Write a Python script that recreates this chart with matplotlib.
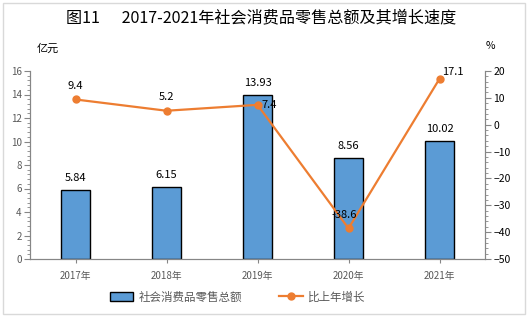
import matplotlib.pyplot as plt
from matplotlib.patches import Rectangle
from matplotlib.ticker import MultipleLocator

plt.rcParams['font.family'] = ['Noto Sans CJK SC', 'DejaVu Sans']

years = ["2017年", "2018年", "2019年", "2020年", "2021年"]
sales = [5.84, 6.15, 13.93, 8.56, 10.02]
growth = [9.4, 5.2, 7.4, -38.6, 17.1]

BAR = "#5B9BD5"
LINE = "#ED7D31"
GRAY = "#868686"
TXT = "#595959"

fig = plt.figure(figsize=(5.3, 3.2), dpi=100)
fig.patches.append(Rectangle((3 / 530, 6 / 320), 522 / 530, 311 / 320,
                             transform=fig.transFigure, fill=False,
                             edgecolor="#D9D9D9", linewidth=1))

ax = fig.add_axes([30 / 530, 61 / 320, 455 / 530, 188 / 320])
x = list(range(len(years)))
bars = ax.bar(x, sales, width=0.32, color=BAR, edgecolor="black",
              linewidth=1, zorder=2, label="社会消费品零售总额")
for xi, v in zip(x, sales):
    ax.annotate(f"{v:.2f}", (xi, v), xytext=(0, 5), textcoords="offset points",
                ha="center", va="bottom", fontsize=8, color="black")

ax.set_xlim(-0.5, 4.5)
ax.set_ylim(0, 16)
ax.yaxis.set_major_locator(MultipleLocator(2))
ax.yaxis.set_minor_locator(MultipleLocator(0.4))
ax.set_xticks(x, years)
ax.tick_params(axis="x", length=3, color=GRAY, labelsize=7, labelcolor=TXT, pad=6)
ax.tick_params(axis="y", which="major", length=4, color=GRAY, labelsize=7,
               labelcolor=TXT, pad=2)
ax.tick_params(axis="y", which="minor", length=2.5, color=GRAY)
ax.spines["top"].set_visible(False)
for s in ["left", "bottom", "right"]:
    ax.spines[s].set_color(GRAY)

ax2 = ax.twinx()
ax2.plot(x, growth, color=LINE, linewidth=1.6, marker="o", markersize=5,
         zorder=3, label="比上年增长")
ax2.set_ylim(-50, 20)
ax2.yaxis.set_major_locator(MultipleLocator(10))
ax2.yaxis.set_minor_locator(MultipleLocator(2))
ax2.tick_params(axis="y", which="major", length=4, color=GRAY, labelsize=7.5,
                labelcolor="black", pad=2)
ax2.tick_params(axis="y", which="minor", length=2.5, color=GRAY)
ax2.spines["top"].set_visible(False)
for s in ["left", "bottom", "right"]:
    ax2.spines[s].set_color(GRAY)

offsets = [((0, 6), "center", "bottom"),
           ((0, 6), "center", "bottom"),
           ((3, 0), "left", "center"),
           ((-3, 6), "center", "bottom"),
           ((2, 1), "left", "bottom")]
for xi, v, (off, ha, va) in zip(x, growth, offsets):
    ax2.annotate(f"{v}", (xi, v), xytext=off, textcoords="offset points",
                 ha=ha, va=va, fontsize=8, color="black")

fig.text(261 / 530, 1 - 18 / 320, "图11      2017-2021年社会消费品零售总额及其增长速度",
         ha="center", va="center", fontsize=11.6, color="black")
fig.text(37 / 530, 1 - 49 / 320, "亿元", ha="left", va="center", fontsize=8)
fig.text(490 / 530, 1 - 46 / 320, "%", ha="center", va="center", fontsize=7.5)

h1, l1 = ax.get_legend_handles_labels()
h2, l2 = ax2.get_legend_handles_labels()
fig.legend(h1 + h2, l1 + l2, loc="center", bbox_to_anchor=(238 / 530, 1 - 297 / 320),
           ncol=2, frameon=False, fontsize=8.3, columnspacing=3.2,
           handlelength=2.0, handletextpad=0.5, labelcolor=TXT)

fig.savefig("out.png", dpi=100)
